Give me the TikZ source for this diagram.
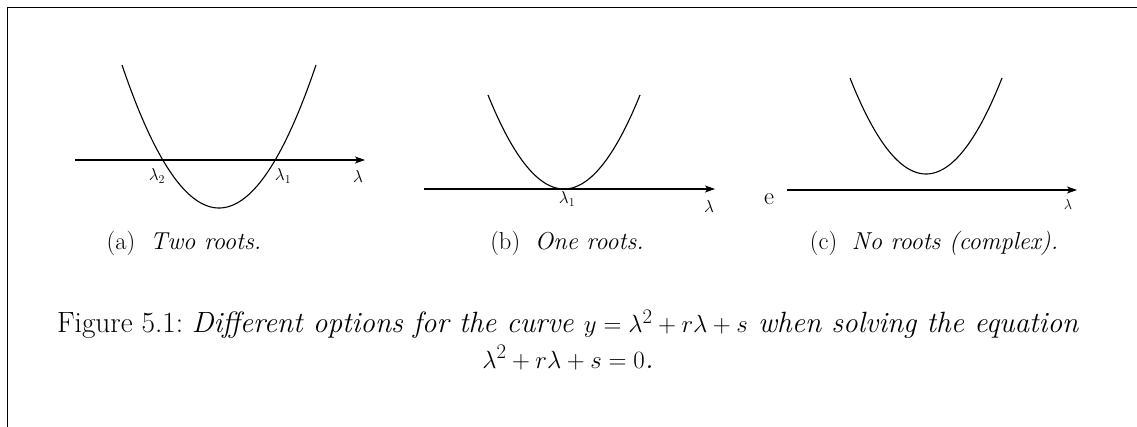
\documentclass[tikz,border=0pt]{standalone}
\usetikzlibrary{arrows.meta}
\begin{document}
\begin{tikzpicture}[x=1pt,y=-1pt,
  axis/.style={line width=1.1pt,-{Stealth[length=10pt,width=7pt,inset=2.5pt]}},
  curve/.style={line width=1.1pt},
  lab/.style={inner sep=0pt,font=\fontsize{17.5}{20}\selectfont},
  subcap/.style={inner sep=0pt,font=\fontsize{24.5}{28}\selectfont},
  maincap/.style={inner sep=0pt,anchor=base,font=\fontsize{29.3}{34}\selectfont}]
\useasboundingbox (0,0) rectangle (1137,427);
\draw[line width=0.8pt] (1137,7) -- (7,7) -- (7,427);
% (a)
\coordinate (a0) at (75,160);
\coordinate (a1) at (365,160);
\draw[axis] (a0) -- (a1);
\draw[curve] plot[domain=-97:97,samples=80] ({219+\x},{208-143*(\x/97)^2});
\node[lab] (la2) at (157,176) {$\lambda_2$};
\node[lab] (la1) at (283,176) {$\lambda_1$};
\node[lab] (la) at (358,177) {$\lambda$};
% (b)
\coordinate (b0) at (424,189);
\coordinate (b1) at (715,189);
\draw[axis] (b0) -- (b1);
\draw[curve] plot[domain=-76:76,samples=80] ({564+\x},{189-94*(\x/76)^2});
\node[lab] (lb1) at (567,199) {$\lambda_1$};
\node[lab] (lb) at (709,207) {$\lambda$};
% (c)
\coordinate (c0) at (787,190);
\coordinate (c1) at (1077,190);
\draw[axis] (c0) -- (c1);
\draw[curve] plot[domain=-76:76,samples=80] ({926+\x},{174-96*(\x/76)^2});
\node[subcap] (e) at (769,199) {e};
\node[lab,font=\fontsize{14.5}{16}\selectfont] (lc) at (1068,205) {$\lambda$};
% subcaptions
\node[subcap] (sa) at (184,243) {(a)\ \ \textit{Two roots.}};
\node[subcap] (sb) at (567,243) {(b)\ \ \textit{One roots.}};
\node[subcap] (sc) at (934,243) {(c)\ \ \textit{No roots (complex).}};
% caption
\node[maincap] (c1l) at (568,333) {Figure 5.1:\ \textit{Different options for the curve $y=\lambda^2+r\lambda+s$ when solving the equation}};
\node[maincap] (c2l) at (568,368) {$\lambda^2+r\lambda+s=0$\textit{.}};
\end{tikzpicture}
\end{document}
